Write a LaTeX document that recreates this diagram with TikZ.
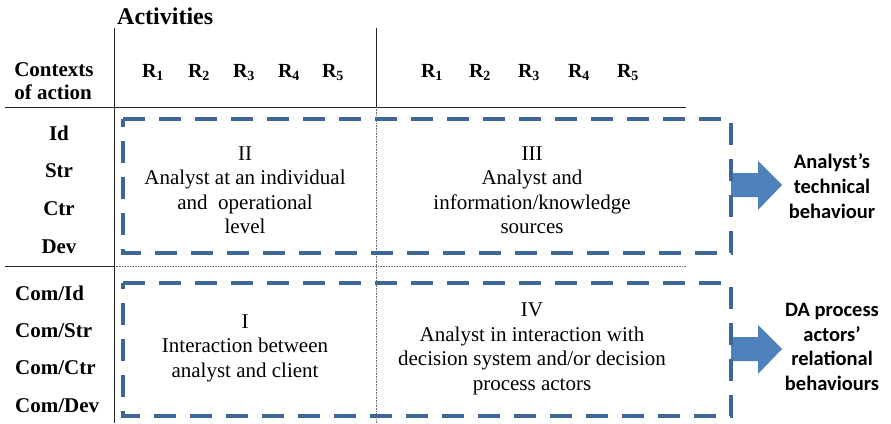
\documentclass[tikz,border=0pt]{standalone}
\usepackage{fontspec}
\setmainfont{Liberation Serif}
\newfontfamily\calibfont{Carlito}
\usetikzlibrary{calc}
\definecolor{boxblue}{HTML}{3E6799}
\definecolor{arrowblue}{HTML}{4F81BD}
\definecolor{dotgray}{HTML}{707070}
\begin{document}
\begin{tikzpicture}[x=1pt,y=-1pt,
  hdr/.style={font=\bfseries\fontsize{21}{23}\selectfont, inner sep=0pt},
  rlab/.style={font=\bfseries\fontsize{20}{22}\selectfont, inner sep=0pt, anchor=base},
  rowlab/.style={font=\bfseries\fontsize{21}{23}\selectfont, inner sep=0pt},
  boxtext/.style={font=\fontsize{21}{24.5}\selectfont, align=center, inner sep=0pt},
  sidetext/.style={font=\calibfont\bfseries\fontsize{20.5}{24.8}\selectfont, align=center, inner sep=0pt},
  gridline/.style={line width=0.9pt, black!85},
  dotline/.style={line width=0.7pt, dotgray, dash pattern=on 0.8pt off 0.8pt},
  quad/.style={line width=3.8pt, boxblue, dash pattern=on 22pt off 14pt},
  blockarrow/.style={fill=arrowblue, draw=none}
]
\useasboundingbox (0,0) rectangle (891,423);

% header
\node[anchor=base west, inner sep=0pt, font=\bfseries\fontsize{24}{28}\selectfont] (act) at (117,24) {Activities};
\node[hdr, align=left, anchor=center] (ctx) at (54,81) {Contexts\\of action};

% R labels
\foreach \i/\x in {1/153,2/199,3/244,4/289,5/333}{
  \node[rlab] (rl\i) at (\x,77) {R\textsubscript{\i}};
}
\foreach \i/\x in {1/432,2/480,3/529,4/579,5/628}{
  \node[rlab] (rr\i) at (\x,77) {R\textsubscript{\i}};
}

% grid
\coordinate (hl0) at (5,107);
\coordinate (hl1) at (686,107);
\coordinate (ml0) at (5,266);
\coordinate (ml1) at (114,266);
\coordinate (ml2) at (686,266);
\coordinate (v1t) at (114,28);
\coordinate (v1b) at (114,423);
\coordinate (v2t) at (376,28);
\coordinate (v2m) at (376,107);
\coordinate (v2b) at (376,423);
\draw[gridline] (hl0) -- (hl1);
\draw[gridline] (ml0) -- (ml1);
\draw[dotline] (ml1) -- (ml2);
\draw[gridline] (v1t) -- (v1b);
\draw[gridline] (v2t) -- (v2m);
\draw[dotline] (v2m) -- (v2b);

% row labels
\node[rowlab] (id) at (59,133) {Id};
\node[rowlab] (str) at (59,171) {Str};
\node[rowlab] (ctr) at (59,209) {Ctr};
\node[rowlab] (dev) at (59,247) {Dev};
\node[rowlab, anchor=west] (cid) at (15,293) {Com/Id};
\node[rowlab, anchor=west] (cstr) at (15,331) {Com/Str};
\node[rowlab, anchor=west] (cctr) at (15,368) {Com/Ctr};
\node[rowlab, anchor=west] (cdev) at (15,406) {Com/Dev};

% block arrows
\coordinate (a1) at (731,185);
\coordinate (a2) at (731,349);
\fill[blockarrow] ($(a1)+(0,-12)$) -- ++(27,0) -- ++(0,-12) -- ($(a1)+(51,0)$) -- ($(a1)+(27,25)$) -- ++(0,-13) -- ($(a1)+(0,12)$) -- cycle;
\fill[blockarrow] ($(a2)+(0,-12)$) -- ++(27,0) -- ++(0,-12) -- ($(a2)+(51,0)$) -- ($(a2)+(27,25)$) -- ++(0,-13) -- ($(a2)+(0,12)$) -- cycle;

% dashed boxes
\draw[quad] (123,119) -- (731,119) -- (731,253) -- (123,253) -- cycle;
\draw[quad] (123,283) -- (731,283) -- (731,416) -- (123,416) -- cycle;

% box texts
\node[boxtext] (q2) at (245,190) {II\\Analyst at an individual\\and\ \ operational\\level};
\node[boxtext] (q3) at (532,190) {III\\Analyst and\\information/knowledge\\sources};
\node[boxtext] (q1) at (245,348) {I\\Interaction between\\analyst and client};
\node[boxtext] (q4) at (532,349) {IV\\Analyst in interaction with\\decision system and/or decision\\process actors};

% side texts
\node[sidetext] (s1) at (832,186) {Analyst’s\\technical\\behaviour};
\node[sidetext] (s2) at (832,347) {DA process\\actors’\\relational\\behaviours};
\end{tikzpicture}
\end{document}
